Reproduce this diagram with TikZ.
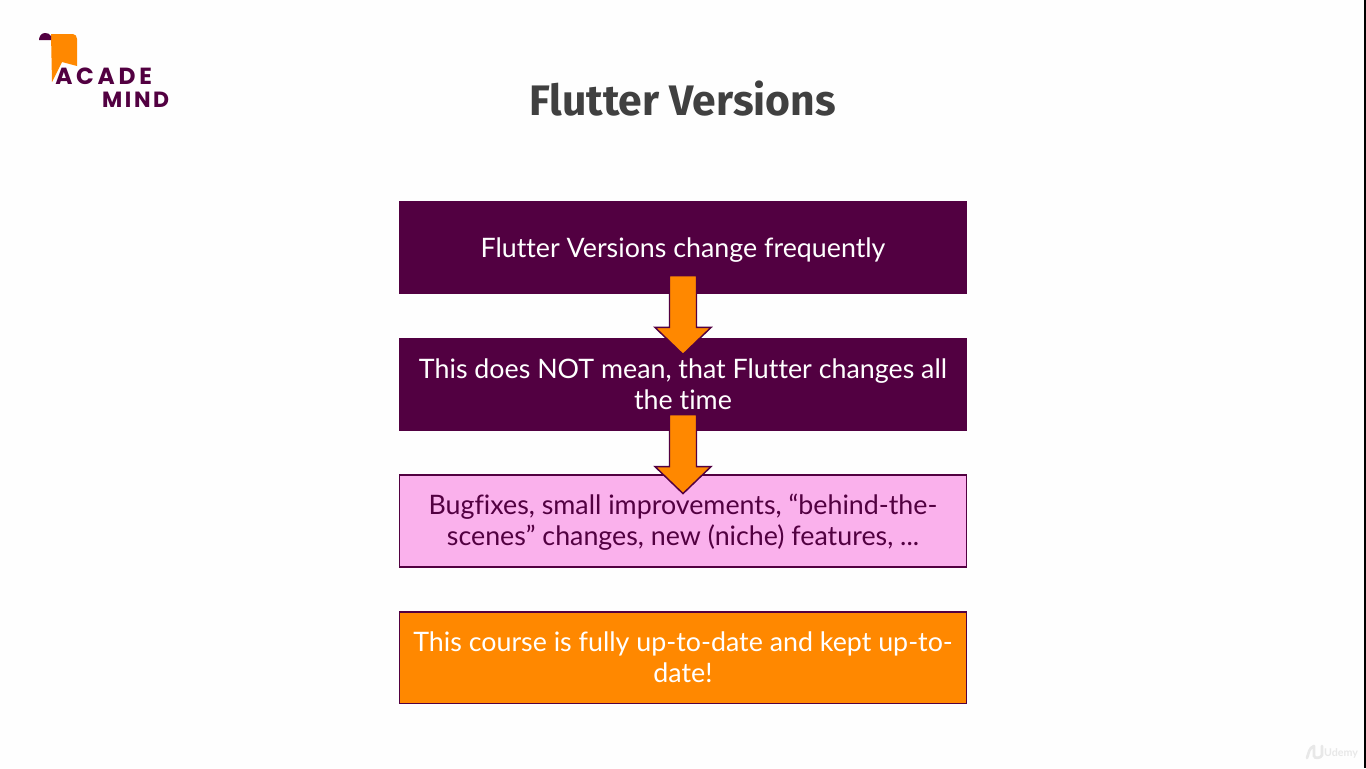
\documentclass[tikz,border=0pt]{standalone}
\usepackage{fontspec}
\setmainfont{Lato}[Ligatures=NoCommon]
\newfontfamily\titlefont{Fira Sans}
\newfontfamily\logofont[LetterSpace=12]{Poppins}
\newfontfamily\logowidefont[LetterSpace=16]{Poppins}
\usetikzlibrary{positioning,calc}
\definecolor{darkplum}{HTML}{520041}
\definecolor{paleplum}{HTML}{FAB1EC}
\definecolor{flutterorange}{HTML}{FF8800}
\tikzset{
	infobox/.style={draw=darkplum,line width=1.3pt,minimum width=425.4pt,minimum height=68.8pt,inner sep=0pt,align=center,font=\fontsize{20.1}{23.2}\selectfont},
	logotext/.style={text=darkplum,inner sep=0pt},
	blockarrow/.style={draw=darkplum,line width=1.1pt,fill=flutterorange,to path={
		(\tikztostart) -- ++(13.5,0) -- ($(\tikztotarget)+(13.5,-27)$) -- ($(\tikztotarget)+(28,-27)$)
		-- (\tikztotarget) -- ($(\tikztotarget)+(-28,-27)$) -- ($(\tikztotarget)+(-13.5,-27)$)
		-- ($(\tikztostart)+(-13.5,0)$) -- cycle}}
}
\begin{document}
\begin{tikzpicture}[x=0.75pt,y=-0.75pt]
			\useasboundingbox (0,0) rectangle (1366,768);
			\fill[white!99.5!black] (0,0) rectangle (1366,768);
			\fill[black] (1364,0) rectangle (1366,768);
			% logo
			\fill[flutterorange] (51,34)--(73,34) to[out=0,in=90] (77,39)--(77,66)--(62,62)--(52,82)--cycle;
			\fill[darkplum] (39,40) to[out=90,in=180] (45,33) to[out=0,in=120] (51,36)--(51,40)--cycle;
			\node[logotext,anchor=west,font=\logowidefont\bfseries\fontsize{17.5}{18}\selectfont] (acade) at (55,76) {ACADE};
			\node[logotext,anchor=east,font=\logofont\bfseries\fontsize{16.5}{17}\selectfont] (mind) at (169.5,100) {MIND};
			% title
			\node (title) at (682.5,98.5) {\titlefont\bfseries\fontsize{32}{36}\selectfont\color{black!75}Flutter Versions};
			% boxes
			\node[infobox,fill=darkplum,text=white] (change) at (683,247.5) {\rule{0pt}{18.5pt}Flutter Versions change frequently};
			\node[infobox,fill=darkplum,text=white] (notmean) at (683,384.5) {This does NOT mean, that Flutter changes all\\the time};
			\node[infobox,fill=paleplum,text=darkplum] (bugfix) at (683,521) {\rule{0pt}{17pt}Bugfixes, small improvements, “behind-the-\\scenes” changes, new (niche) features, ...};
			\node[infobox,fill=flutterorange,text=white] (course) at (683,657.5) {This course is fully up-to-date and kept up-to-\\date!};
			% arrows
			\draw[blockarrow] ([yshift=14pt]change.south) to ([yshift=-12.5pt]notmean.north);
			\draw[blockarrow] ([yshift=12.5pt]notmean.south) to ([yshift=-14.5pt]bugfix.north);
			% watermark
			\node[text=black!9,inner sep=0pt,font=\fontsize{8}{8}\selectfont\bfseries] (udemy) at (1341,753) {Udemy};
			\draw[black!9,line width=2pt,line cap=round] (1307,758) to[out=70,in=200] (1314,746) (1314,746)--(1314,756) to[out=-80,in=-100] (1322,755)--(1322,746);
		\end{tikzpicture}
\end{document}
